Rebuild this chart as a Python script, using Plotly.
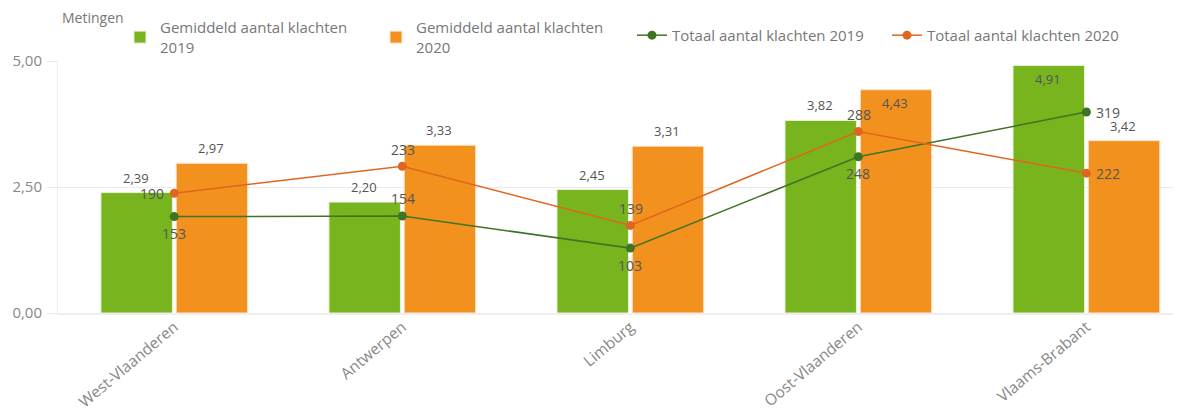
import plotly.graph_objects as go

categories = ["West-Vlaanderen", "Antwerpen", "Limburg", "Oost-Vlaanderen", "Vlaams-Brabant"]
gem_2019 = [2.39, 2.20, 2.45, 3.82, 4.91]
gem_2020 = [2.97, 3.33, 3.31, 4.43, 3.42]
tot_2019 = [153, 154, 103, 248, 319]
tot_2020 = [190, 233, 139, 288, 222]

# label placement (style only)
bar_pos_2019 = ["above", "above", "above", "above", "inside"]
bar_pos_2020 = ["above", "above", "above", "inside", "above"]
pos_2019 = ["below", "above", "below", "below", "right"]
pos_2020 = ["left", "above", "above", "above", "right"]

GREEN = "#78b41e"
ORANGE = "#f3911e"
DGREEN = "#3e7424"
DORANGE = "#e0661f"
TXT = "#555555"
FONT = "Open Sans"

fig = go.Figure()
fig.add_trace(go.Bar(
    x=categories, y=gem_2019, name="Gemiddeld aantal klachten<br>2019",
    marker=dict(color=GREEN, line=dict(color="#e6f1d4", width=1)),
    legend="legend",
))
fig.add_trace(go.Bar(
    x=categories, y=gem_2020, name="Gemiddeld aantal klachten<br>2020",
    marker=dict(color=ORANGE, line=dict(color="#fde6cc", width=1)),
    legend="legend",
))
fig.add_trace(go.Scatter(
    x=categories, y=tot_2019, name="Totaal aantal klachten 2019", yaxis="y2",
    mode="lines+markers", line=dict(color=DGREEN, width=1.5),
    marker=dict(color=DGREEN, size=9), cliponaxis=False,
    legend="legend2",
))
fig.add_trace(go.Scatter(
    x=categories, y=tot_2020, name="Totaal aantal klachten 2020", yaxis="y2",
    mode="lines+markers", line=dict(color=DORANGE, width=1.5),
    marker=dict(color=DORANGE, size=9), cliponaxis=False,
    legend="legend2",
))

annotations = [dict(
    text="Metingen", xref="paper", yref="paper", x=0.0018, y=1.1746,
    xanchor="left", yanchor="middle", showarrow=False,
    font=dict(size=14, color="#777777", family=FONT),
)]

# bar value labels
bar_place = {"above": 15, "inside": -13}
for vals, poss, dx in ((gem_2019, bar_pos_2019, -38), (gem_2020, bar_pos_2020, 37)):
    for cat, v, p in zip(categories, vals, poss):
        annotations.append(dict(
            x=cat, y=v, xref="x", yref="y", text=f"{v:.2f}".replace(".", ","),
            showarrow=False, xanchor="center", yanchor="middle",
            xshift=dx, yshift=bar_place[p],
            font=dict(size=13, color=TXT, family=FONT),
        ))

# line value labels
placement = {
    "below": dict(xanchor="center", yanchor="middle", xshift=0, yshift=-17),
    "above": dict(xanchor="center", yanchor="middle", xshift=1, yshift=17),
    "left": dict(xanchor="right", yanchor="middle", xshift=-8, yshift=0),
    "right": dict(xanchor="left", yanchor="middle", xshift=8, yshift=0),
}
for vals, poss in ((tot_2019, pos_2019), (tot_2020, pos_2020)):
    for cat, v, p in zip(categories, vals, poss):
        annotations.append(dict(
            x=cat, y=v, xref="x", yref="y2", text=str(v), showarrow=False,
            font=dict(size=14, color=TXT, family=FONT), **placement[p],
        ))

legend_common = dict(
    orientation="h", xanchor="left", yanchor="top",
    font=dict(size=15, color="#777777", family=FONT),
    entrywidthmode="pixels", traceorder="normal", itemclick=False,
    bgcolor="rgba(0,0,0,0)",
)

fig.update_layout(
    width=1181, height=408,
    margin=dict(l=50, r=0, t=53, b=103, autoexpand=False),
    paper_bgcolor="white", plot_bgcolor="white",
    separators=",.",
    font=dict(family=FONT, color="#777777", size=13),
    barmode="group", bargap=0.34, bargroupgap=0.05,
    showlegend=True,
    legend=dict(x=0.0548, y=1.198, entrywidth=211, **legend_common),
    legend2=dict(x=0.5075, y=1.167, entrywidth=210, **legend_common),
    annotations=annotations,
    xaxis=dict(
        range=[-0.51, 4.45], tickangle=-40, showgrid=False,
        showline=True, linecolor="#eeeeee", linewidth=2,
        tickfont=dict(size=15.5, color="#888888"), ticks="",
        ticklabelstandoff=-3,
    ),
    yaxis=dict(
        range=[0, 5], tickvals=[0, 2.5, 5], tickformat=".2f",
        showgrid=True, gridcolor="#ebebeb", gridwidth=1,
        showline=True, linecolor="#eeeeee", zeroline=False,
        tickfont=dict(size=15, color="#888888"),
        ticks="outside", ticklen=10, tickcolor="#ebebeb", ticklabelstandoff=2,
    ),
    yaxis2=dict(
        range=[0, 400], overlaying="y", side="right", visible=False,
        showgrid=False,
    ),
)

fig.write_html("out.html")
